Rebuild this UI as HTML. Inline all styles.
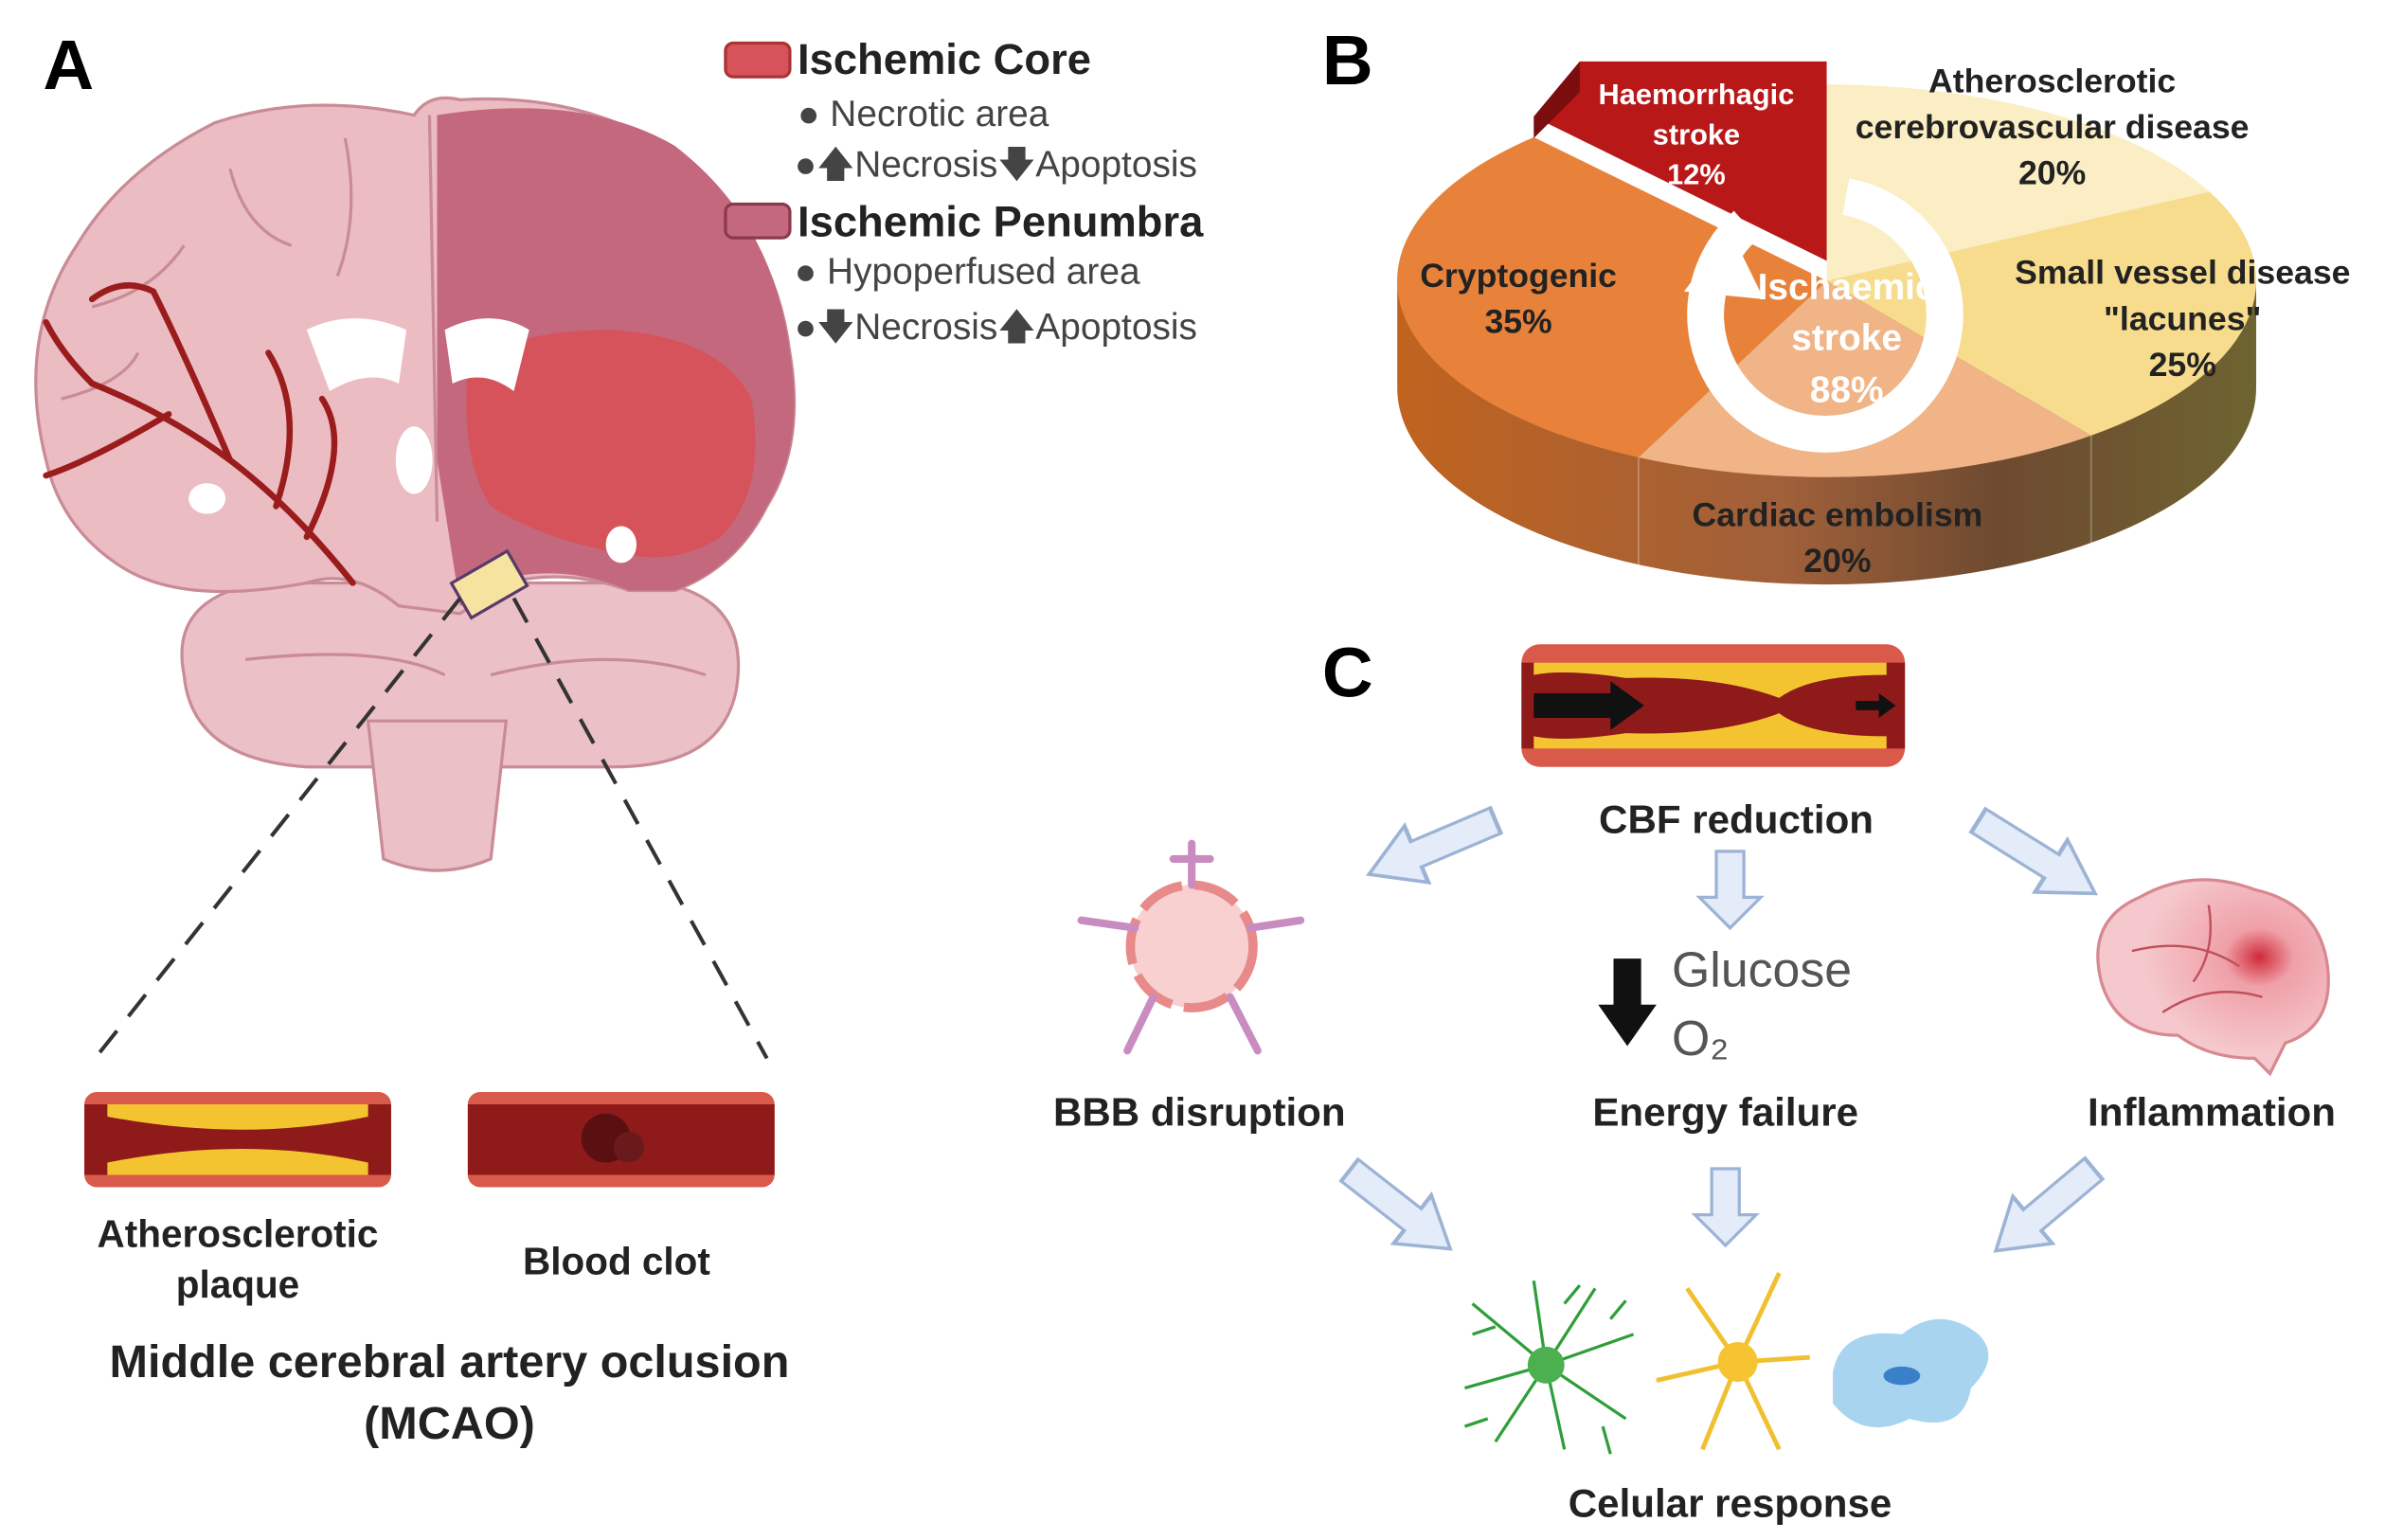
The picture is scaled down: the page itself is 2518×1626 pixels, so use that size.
<!DOCTYPE html>
<html><head><meta charset="utf-8"><style>
html,body{margin:0;padding:0;background:#fff}
svg{display:block}
text{font-family:"Liberation Sans",Arial,sans-serif}
</style></head><body>
<svg width="2518" height="1626" viewBox="0 0 1555 1004" xmlns="http://www.w3.org/2000/svg">
<defs>
<linearGradient id="side" x1="0" x2="1" y1="0" y2="0">
<stop offset="0" stop-color="#c0631f"/><stop offset="0.45" stop-color="#a0603a"/><stop offset="0.7" stop-color="#6e4a30"/><stop offset="1" stop-color="#6e6430"/></linearGradient>
<radialGradient id="brn" cx="0.7" cy="0.4" r="0.5"><stop offset="0" stop-color="#d02a3a"/><stop offset="0.3" stop-color="#f0a0a8"/><stop offset="1" stop-color="#f4c8cc"/></radialGradient>
</defs>
<rect width="1555" height="1004" fill="#fff"/>

<!-- ===== A ===== -->
<text x="28" y="58" font-size="46" font-weight="bold">A</text>
<!-- cerebellum -->
<path d="M120 440 Q110 390 170 380 L430 380 Q490 390 480 450 Q470 500 400 500 L200 500 Q125 495 120 440Z" fill="#ebc0c6" stroke="#c98b96" stroke-width="2"/>
<path d="M240 470 L330 470 L320 560 Q285 575 250 560Z" fill="#ebc0c6" stroke="#c98b96" stroke-width="2"/>
<!-- cerebrum -->
<path d="M30 300 Q10 220 50 160 Q80 110 140 80 Q200 60 270 75 Q280 60 300 65 Q380 60 440 100 Q505 150 515 230 Q525 290 500 330 Q480 370 440 385 L410 385 Q370 370 330 380 L300 400 L260 395 Q230 370 200 380 Q120 395 80 370 Q40 345 30 300Z" fill="#ecbcc3" stroke="#c98b96" stroke-width="2"/>
<path d="M285 75 Q380 60 440 95 Q505 145 515 230 Q525 290 500 330 Q480 370 440 385 L410 385 Q375 370 340 375 L300 395 L285 300 Z" fill="#c4697d"/>
<path d="M305 240 Q330 215 400 215 Q470 220 490 260 Q500 320 470 350 Q440 370 400 360 Q350 350 320 330 Q300 300 305 240Z" fill="#d6535c"/>
<path d="M280 75 L285 340" stroke="#c98b96" stroke-width="2" fill="none"/>
<!-- ventricles -->
<path d="M200 215 Q230 200 265 215 L260 250 Q240 240 215 255 Z" fill="#fff"/>
<path d="M290 215 Q320 200 345 215 L335 255 Q315 240 295 250 Z" fill="#fff"/>
<ellipse cx="270" cy="300" rx="12" ry="22" fill="#fff"/>
<ellipse cx="135" cy="325" rx="12" ry="10" fill="#fff"/>
<ellipse cx="405" cy="355" rx="10" ry="12" fill="#fff"/>
<!-- sulci -->
<g stroke="#c98b96" stroke-width="2" fill="none">
<path d="M60 200 Q100 190 120 160"/><path d="M150 110 Q160 150 190 160"/><path d="M225 90 Q235 140 220 180"/>
<path d="M40 260 Q80 250 90 230"/><path d="M160 430 Q250 420 290 440"/><path d="M320 440 Q400 420 460 440"/>
</g>
<!-- vessels -->
<g stroke="#9b1c1c" stroke-width="4" fill="none" stroke-linecap="round">
<path d="M230 380 Q190 330 150 300 Q110 270 60 250"/>
<path d="M150 300 Q120 230 100 190"/><path d="M110 270 Q60 300 30 310"/>
<path d="M180 330 Q200 270 175 230"/><path d="M200 350 Q230 290 210 260"/>
<path d="M100 190 Q80 180 60 195"/><path d="M60 250 Q40 230 30 210"/>
</g>
<!-- box -->
<rect x="298" y="368" width="42" height="26" fill="#f6e3a0" stroke="#5a3a6a" stroke-width="2" transform="rotate(-30 319 381)"/>
<g stroke="#333" stroke-width="2.5" stroke-dasharray="18 12" fill="none">
<path d="M300 390 L62 690"/><path d="M335 390 L500 690"/>
</g>
<!-- legend -->
<rect x="473" y="28" width="42" height="22" rx="5" fill="#d6535c" stroke="#a33" stroke-width="2"/>
<text x="520" y="48" font-size="28" font-weight="bold" fill="#222">Ischemic Core</text>
<text x="520" y="82" font-size="24" fill="#444">●  Necrotic area</text>
<text x="518" y="115" font-size="24" fill="#444">●🡅Necrosis🡇Apoptosis</text>
<rect x="473" y="133" width="42" height="22" rx="5" fill="#c4697d" stroke="#8a3a4a" stroke-width="2"/>
<text x="520" y="154" font-size="28" font-weight="bold" fill="#222">Ischemic Penumbra</text>
<text x="518" y="185" font-size="24" fill="#444">● Hypoperfused area</text>
<text x="518" y="221" font-size="24" fill="#444">●🡇Necrosis🡅Apoptosis</text>
<!-- vessels bottom -->
<rect x="55" y="712" width="200" height="62" rx="8" fill="#d95a4a"/>
<rect x="55" y="720" width="200" height="46" fill="#8e1a1a"/>
<path d="M70 720 L240 720 L240 728 Q160 745 70 728Z M70 766 L240 766 L240 758 Q160 740 70 758Z" fill="#f4c430"/>
<rect x="305" y="712" width="200" height="62" rx="8" fill="#d95a4a"/>
<rect x="305" y="720" width="200" height="46" fill="#8e1a1a"/>
<circle cx="395" cy="742" r="16" fill="#5a1010"/><circle cx="410" cy="748" r="10" fill="#6a1a1a"/>
<text x="155" y="813" font-size="25" font-weight="bold" text-anchor="middle" fill="#222">Atherosclerotic</text>
<text x="155" y="846" font-size="25" font-weight="bold" text-anchor="middle" fill="#222">plaque</text>
<text x="402" y="831" font-size="25" font-weight="bold" text-anchor="middle" fill="#222">Blood clot</text>
<text x="293" y="898" font-size="30" font-weight="bold" text-anchor="middle" fill="#222">Middle cerebral artery oclusion</text>
<text x="293" y="938" font-size="30" font-weight="bold" text-anchor="middle" fill="#222">(MCAO)</text>

<!-- ===== B ===== -->
<text x="862" y="55" font-size="46" font-weight="bold">B</text>
<path d="M911 183 L911 253 A280 128 0 0 0 1471 253 L1471 183Z" fill="url(#side)"/>
<path d="M1191 183 L1191 55 A280 128 0 0 1 1440.5 124.9Z" fill="#fbeec4"/>
<path d="M1191 183 L1440.5 124.9 A280 128 0 0 1 1363.4 283.9Z" fill="#f7dc8e"/>
<path d="M1191 183 L1363.4 283.9 A280 128 0 0 1 1068.3 298.1Z" fill="#f0b487"/>
<path d="M1191 183 L1068.3 298.1 A280 128 0 0 1 1000 89.4Z" fill="#e8823a"/>
<path d="M1068.3 298.1 L1068.3 368 M1363.4 283.9 L1363.4 354" stroke="#fff" stroke-opacity="0.3"/>
<path d="M1191 170 L1000 76 L1030 40 L1191 40Z" fill="#b81818"/>
<path d="M1030 40 L1030 60 L1000 90 L1000 76Z" fill="#7a0e0e"/>
<circle cx="1190" cy="205" r="78" fill="none" stroke="#fff" stroke-width="24" stroke-dasharray="420 80" transform="rotate(-80 1190 205)"/>
<path d="M1098 190 L1128 150 L1150 195Z" fill="#fff"/>
<g font-weight="bold" text-anchor="middle">
<text x="1106" y="68" font-size="19" fill="#fff">Haemorrhagic</text>
<text x="1106" y="94" font-size="19" fill="#fff">stroke</text>
<text x="1106" y="120" font-size="19" fill="#fff">12%</text>
<text x="1338" y="60" font-size="22" fill="#222">Atherosclerotic</text>
<text x="1338" y="90" font-size="22" fill="#222">cerebrovascular disease</text>
<text x="1338" y="120" font-size="22" fill="#222">20%</text>
<text x="1423" y="185" font-size="22" fill="#222">Small vessel disease</text>
<text x="1423" y="215" font-size="22" fill="#222">"lacunes"</text>
<text x="1423" y="245" font-size="22" fill="#222">25%</text>
<text x="990" y="187" font-size="22" fill="#222">Cryptogenic</text>
<text x="990" y="217" font-size="22" fill="#222">35%</text>
<text x="1198" y="343" font-size="22" fill="#222">Cardiac embolism</text>
<text x="1198" y="373" font-size="22" fill="#222">20%</text>
<text x="1204" y="195" font-size="24" fill="#fff">Ischaemic</text>
<text x="1204" y="228" font-size="24" fill="#fff">stroke</text>
<text x="1204" y="262" font-size="24" fill="#fff">88%</text>
</g>

<!-- ===== C ===== -->
<text x="862" y="454" font-size="46" font-weight="bold">C</text>
<rect x="992" y="420" width="250" height="80" rx="12" fill="#d95a4a"/>
<rect x="992" y="432" width="250" height="56" fill="#8e1a1a"/>
<path d="M1000 432 L1230 432 L1230 440 Q1180 440 1160 455 Q1120 440 1060 442 Q1020 436 1000 440Z M1000 488 L1230 488 L1230 480 Q1180 480 1160 465 Q1120 480 1060 478 Q1020 484 1000 480Z" fill="#f4c430"/>
<path d="M1000 452 L1050 452 L1050 444 L1072 460 L1050 476 L1050 468 L1000 468Z" fill="#111"/>
<path d="M1210 457 L1225 457 L1225 452 L1236 460 L1225 468 L1225 463 L1210 463Z" fill="#111"/>
<text x="1132" y="543" font-size="26" font-weight="bold" text-anchor="middle" fill="#222">CBF reduction</text>
<g fill="#e3ecf8" stroke="#9cb3d6" stroke-width="2">
<path d="M0 -9 L40 -9 L40 -20 L64 0 L40 20 L40 9 L0 9Z" transform="translate(975 535) rotate(157) scale(1.4 1)"/>
<path d="M0 -9 L30 -9 L30 -20 L50 0 L30 20 L30 9 L0 9Z" transform="translate(1128 555) rotate(90)"/>
<path d="M0 -9 L40 -9 L40 -20 L64 0 L40 20 L40 9 L0 9Z" transform="translate(1290 535) rotate(32) scale(1.4 1)"/>
<path d="M0 -9 L40 -9 L40 -20 L64 0 L40 20 L40 9 L0 9Z" transform="translate(880 763) rotate(38) scale(1.3 1)"/>
<path d="M0 -9 L30 -9 L30 -20 L50 0 L30 20 L30 9 L0 9Z" transform="translate(1125 762) rotate(90)"/>
<path d="M0 -9 L40 -9 L40 -20 L64 0 L40 20 L40 9 L0 9Z" transform="translate(1365 762) rotate(140) scale(1.3 1)"/>
</g>
<path d="M1052 625 L1070 625 L1070 655 L1080 655 L1061 682 L1042 655 L1052 655Z" fill="#111"/>
<text x="1090" y="643" font-size="32" fill="#555">Glucose</text>
<text x="1090" y="688" font-size="32" fill="#555">O₂</text>
<!-- BBB icon -->
<circle cx="777" cy="617" r="40" fill="#f8d0d0" stroke="#e88a8a" stroke-width="6" stroke-dasharray="30 8"/>
<g stroke="#c98cc0" stroke-width="5" fill="none" stroke-linecap="round">
<path d="M777 577 L777 550 M765 560 L789 560"/><path d="M815 605 L848 600"/><path d="M740 605 L705 600"/>
<path d="M752 650 L735 685"/><path d="M802 650 L820 685"/>
</g>
<!-- brain icon -->
<path d="M1370 640 Q1360 600 1395 585 Q1430 565 1470 580 Q1515 590 1518 635 Q1520 670 1490 680 L1480 700 L1470 690 Q1440 690 1420 675 Q1380 675 1370 640Z" fill="url(#brn)" stroke="#d88890" stroke-width="2"/>
<g stroke="#c0505a" stroke-width="1.5" fill="none"><path d="M1390 620 Q1430 610 1460 630"/><path d="M1410 660 Q1440 640 1475 650"/><path d="M1440 590 Q1445 620 1430 640"/></g>
<text x="782" y="734" font-size="26" font-weight="bold" text-anchor="middle" fill="#222">BBB disruption</text>
<text x="1125" y="734" font-size="26" font-weight="bold" text-anchor="middle" fill="#222">Energy failure</text>
<text x="1442" y="734" font-size="26" font-weight="bold" text-anchor="middle" fill="#222">Inflammation</text>
<!-- cells -->
<g stroke="#2e9e3a" stroke-width="2" fill="none">
<path d="M1008 890 L960 850 M1008 890 L955 905 M1008 890 L975 940 M1008 890 L1020 945 M1008 890 L1060 925 M1008 890 L1065 870 M1008 890 L1040 840 M1008 890 L1000 835"/>
<path d="M975 865 L960 870 M970 925 L955 930 M1045 930 L1050 948 M1050 860 L1060 848 M1020 850 L1030 838"/>
</g>
<circle cx="1008" cy="890" r="12" fill="#4caf50"/>
<g stroke="#f0c030" stroke-width="3" fill="none">
<path d="M1133 888 L1100 840 M1133 888 L1160 830 M1133 888 L1080 900 M1133 888 L1110 945 M1133 888 L1160 945 M1133 888 L1180 885"/>
</g>
<circle cx="1133" cy="888" r="13" fill="#f6c432"/>
<path d="M1195 895 Q1200 865 1240 870 Q1265 850 1290 870 Q1305 885 1285 905 Q1280 935 1245 925 Q1215 940 1195 915Z" fill="#a8d4ef"/>
<ellipse cx="1240" cy="897" rx="12" ry="6" fill="#3a80c8"/>
<text x="1128" y="989" font-size="26" font-weight="bold" text-anchor="middle" fill="#222">Celular response</text>
</svg>
</body></html>
